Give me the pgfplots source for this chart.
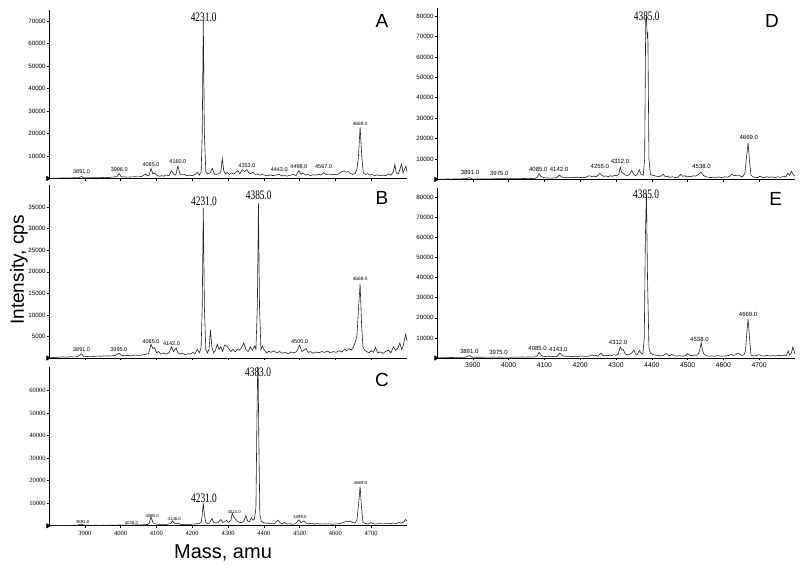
\documentclass[border=0pt]{standalone}
\usepackage{pgfplots}
\pgfplotsset{compat=1.18}
\usepackage{fontspec}
\setmainfont{Liberation Sans}
\newfontfamily\tms{Liberation Serif}
\newcommand\bl[1]{\scalebox{0.72}[1]{\tms\fontsize{13}{13}\selectfont #1}}
\newcommand\sm[1]{{\fontsize{5.5}{5.5}\selectfont #1}}
\newcommand\smm[1]{{\fontsize{6}{6}\selectfont #1}}
\pgfplotsset{
 ms/.style={scale only axis, width=358pt, anchor=south west, axis lines=left,
  axis line style={-, line width=0.8pt}, xmin=3800, xmax=4800, ymin=0, clip=false,
  xtick={3900,4000,...,4700}, tick align=outside, major tick length=2.2pt,
  tick style={line width=0.6pt, black}, scaled y ticks=false, scaled x ticks=false,
  /pgf/number format/assume math mode=true, /pgf/number format/1000 sep={},
  tick label style={font=\fontsize{6.2}{6.5}\selectfont}, yticklabel style={inner sep=1pt},
  xticklabel style={inner sep=2.5pt}},
 nox/.style={xticklabels={}},
 sp/.style={black!85, line width=0.6pt, mark=none},
 tri/.style={only marks, mark=triangle*, mark size=2.6pt, mark options={rotate=-90, fill=black}},
}
\begin{document}
\begin{tikzpicture}
\path[use as bounding box] (0pt,0pt) rectangle (800pt,-571pt);
% ---------------- A
\begin{axis}[ms, nox, at={(49pt,-178.5pt)}, height=168.5pt, ymax=74900, ytick={10000,20000,...,70000}]
\addplot[sp] coordinates {(3800,0)(3810,100)(3820,150)(3830,200)(3840,300)(3850,200)(3860,250)(3870,350)(3880,300)(3885,400)(3891,900)(3897,300)(3905,350)(3915,300)(3925,400)(3935,350)(3945,400)(3955,500)(3965,450)(3975,600)(3985,700)(3990,900)(3996,2200)(4002,800)(4010,700)(4020,600)(4030,700)(4040,800)(4050,700)(4060,1000)(4070,2000)(4075,1200)(4080,1500)(4085,4500)(4090,2000)(4095,2500)(4100,1500)(4105,1200)(4110,1000)(4115,1300)(4120,1000)(4128,1600)(4135,1200)(4142,3500)(4148,2000)(4154,1500)(4160,5500)(4166,2000)(4172,1600)(4178,1800)(4185,1200)(4192,1500)(4200,1300)(4208,1800)(4214,2800)(4220,1500)(4225,3000)(4228,20000)(4231,70500)(4234,20000)(4238,3000)(4243,2000)(4250,2500)(4256,4500)(4262,2000)(4268,1800)(4274,2200)(4280,3000)(4284,9000)(4288,3500)(4293,2000)(4298,2800)(4304,1800)(4310,2500)(4316,2000)(4322,2800)(4328,3500)(4333,2000)(4340,4000)(4346,3000)(4353,4000)(4358,2500)(4364,2200)(4370,2800)(4376,1800)(4382,2000)(4388,1500)(4395,1800)(4402,1500)(4410,1200)(4418,1600)(4425,1300)(4432,1500)(4443,1800)(4450,1200)(4458,1300)(4466,1100)(4475,1500)(4483,1800)(4490,1300)(4498,3500)(4504,1800)(4510,2500)(4516,1500)(4522,1800)(4530,1300)(4538,1700)(4546,1500)(4553,1900)(4560,1500)(4567,2600)(4574,1800)(4582,2000)(4590,1600)(4597,1900)(4604,1600)(4612,2400)(4618,3000)(4624,3400)(4630,2800)(4636,3100)(4642,2200)(4648,1800)(4655,2200)(4660,4000)(4664,9000)(4669,22800)(4674,9000)(4678,2500)(4684,1800)(4690,2200)(4696,1500)(4702,1800)(4710,1300)(4718,1600)(4725,1200)(4732,1500)(4740,1300)(4748,2000)(4755,1500)(4762,3000)(4766,6200)(4770,2500)(4776,2000)(4781,4500)(4785,6500)(4789,2500)(4793,4000)(4797,5500)(4800,3000)};
\addplot[tri] coordinates {(3797,0)};
\node at (axis cs:4232,71600) {\bl{4231.0}};
\node at (axis cs:3891,2900) {\sm{3891.0}};
\node at (axis cs:3996,3800) {\sm{3996.0}};
\node at (axis cs:4085,6300) {\sm{4085.0}};
\node at (axis cs:4160,7500) {\sm{4160.0}};
\node at (axis cs:4353,5900) {\sm{4353.0}};
\node at (axis cs:4443,3800) {\sm{4443.0}};
\node at (axis cs:4498,5200) {\sm{4498.0}};
\node at (axis cs:4567,5200) {\sm{4567.0}};
\node at (axis cs:4669,24500) {\fontsize{4.8}{5}\selectfont 4669.0};
\end{axis}
% ---------------- B
\begin{axis}[ms, nox, at={(49pt,-358pt)}, height=173pt, ymax=40140, ytick={5000,10000,...,35000}]
\addplot[sp] coordinates {(3800,0)(3810,100)(3820,150)(3830,200)(3840,250)(3850,200)(3860,300)(3870,250)(3880,300)(3891,1000)(3897,300)(3905,350)(3915,400)(3925,350)(3935,450)(3945,400)(3955,500)(3965,450)(3975,500)(3985,600)(3995,1100)(4002,600)(4010,550)(4020,600)(4030,500)(4040,700)(4050,600)(4060,700)(4070,900)(4078,1000)(4085,3200)(4090,2200)(4095,2400)(4100,1200)(4106,1500)(4112,900)(4120,1100)(4128,900)(4135,1200)(4142,2600)(4148,1500)(4155,2300)(4160,1200)(4166,900)(4172,1100)(4180,800)(4188,1000)(4195,900)(4202,1300)(4208,1000)(4214,2000)(4220,1200)(4225,2500)(4228,12000)(4231,34800)(4234,12000)(4238,2000)(4243,1200)(4247,2000)(4251,6500)(4255,2500)(4260,1200)(4265,1800)(4270,3200)(4275,2000)(4280,2600)(4285,1500)(4290,3000)(4296,2800)(4302,2200)(4308,1500)(4314,2000)(4320,1400)(4326,2000)(4332,1800)(4338,2400)(4344,3500)(4350,2000)(4356,1500)(4362,2600)(4368,1800)(4374,2800)(4378,2000)(4382,12000)(4385,36000)(4388,12000)(4392,2000)(4396,2800)(4402,1800)(4408,1200)(4414,1600)(4420,1300)(4428,1700)(4436,1200)(4444,1500)(4452,1100)(4460,1300)(4468,1000)(4476,1400)(4484,1200)(4492,1500)(4500,3000)(4506,1500)(4512,1800)(4518,2200)(4524,1300)(4530,1500)(4538,1100)(4546,1400)(4554,1200)(4562,1500)(4570,1300)(4578,1600)(4586,1200)(4594,1500)(4602,1300)(4610,1700)(4618,1400)(4626,2000)(4632,1700)(4638,2200)(4644,1900)(4650,2500)(4655,3600)(4660,5000)(4665,12000)(4669,17200)(4673,8000)(4677,2500)(4682,1800)(4688,1500)(4694,1200)(4700,1700)(4706,1300)(4712,2500)(4718,1200)(4725,1400)(4732,1100)(4740,1500)(4748,1800)(4755,1200)(4762,2600)(4768,1800)(4774,2200)(4780,3500)(4785,2000)(4790,3000)(4796,5500)(4800,4000)};
\addplot[tri] coordinates {(3797,0)};
\node at (axis cs:4233,36400) {\bl{4231.0}};
\node at (axis cs:4386,37800) {\bl{4385.0}};
\node at (axis cs:3891,1900) {\sm{3891.0}};
\node at (axis cs:3995,1900) {\sm{3995.0}};
\node at (axis cs:4085,3900) {\sm{4085.0}};
\node at (axis cs:4142,3300) {\sm{4142.0}};
\node at (axis cs:4500,3800) {\sm{4500.0}};
\node at (axis cs:4669,18300) {\fontsize{4.8}{5}\selectfont 4669.0};
\end{axis}
% ---------------- C
\begin{axis}[ms, at={(49pt,-525.8pt)}, height=158.8pt, ymax=70500, ytick={10000,20000,...,60000},
  tick label style={font=\tms\fontsize{6.5}{7}\selectfont}]
\addplot[sp] coordinates {(3800,0)(3810,100)(3820,150)(3830,150)(3840,200)(3850,150)(3860,200)(3870,250)(3880,300)(3891,800)(3898,300)(3910,250)(3920,200)(3930,250)(3940,200)(3950,250)(3960,200)(3970,250)(3980,300)(3990,250)(3996,400)(4005,300)(4015,350)(4025,300)(4035,350)(4045,400)(4055,350)(4065,500)(4075,600)(4080,1200)(4085,4000)(4090,1500)(4095,900)(4102,700)(4110,600)(4118,700)(4126,600)(4134,800)(4140,1000)(4145,2200)(4150,1200)(4156,900)(4160,1200)(4166,700)(4174,600)(4182,700)(4190,600)(4198,700)(4206,800)(4214,900)(4220,1000)(4225,1500)(4228,5000)(4231,10000)(4234,5000)(4238,1500)(4243,1000)(4248,1200)(4255,3200)(4260,1500)(4266,1200)(4272,1500)(4280,2800)(4285,1500)(4290,1800)(4296,2400)(4302,1500)(4308,2500)(4312,5600)(4316,4000)(4320,3200)(4326,2000)(4332,1500)(4338,1400)(4344,2000)(4350,4500)(4355,2000)(4360,1800)(4365,3500)(4370,2500)(4374,3000)(4378,8000)(4381,50000)(4383,70400)(4384,70400)(4386,40000)(4389,5000)(4393,2000)(4398,1500)(4404,1200)(4410,1300)(4416,900)(4422,1000)(4430,900)(4440,2500)(4446,1200)(4452,900)(4458,1500)(4464,800)(4472,900)(4480,700)(4488,900)(4498,2600)(4504,1400)(4512,2100)(4518,1200)(4525,900)(4532,1200)(4540,800)(4548,1000)(4556,800)(4564,900)(4572,800)(4580,900)(4590,700)(4600,800)(4610,900)(4618,1200)(4624,1500)(4630,2000)(4636,1800)(4642,2100)(4648,1500)(4654,1200)(4660,2500)(4665,10000)(4669,17400)(4673,8000)(4677,1500)(4684,1000)(4692,800)(4700,1500)(4706,900)(4714,800)(4722,1000)(4730,800)(4738,900)(4746,1200)(4754,900)(4762,1300)(4770,1000)(4778,1500)(4785,1200)(4790,1600)(4796,2800)(4800,2000)};
\addplot[tri] coordinates {(3797,0)};
\node at (axis cs:4384,68300) {\bl{4383.0}};
\node at (axis cs:4233,12200) {\bl{4231.0}};
\node at (axis cs:3894,1800) {\fontsize{4.3}{4.5}\selectfont 3891.0};
\node at (axis cs:4030,1400) {\fontsize{4.3}{4.5}\selectfont 4026.0};
\node at (axis cs:4088,4300) {\fontsize{4.3}{4.5}\selectfont 4085.0};
\node at (axis cs:4150,3000) {\fontsize{4.3}{4.5}\selectfont 4146.0};
\node at (axis cs:4317,6300) {\fontsize{4.3}{4.5}\selectfont 4314.0};
\node at (axis cs:4501,4000) {\fontsize{4.3}{4.5}\selectfont 4499.0};
\node at (axis cs:4670,18900) {\fontsize{4.3}{4.5}\selectfont 4669.0};
\end{axis}
% ---------------- D
\begin{axis}[ms, nox, at={(437pt,-179.4pt)}, height=171.4pt, ymax=84000, ytick={10000,20000,...,80000}]
\addplot[sp] coordinates {(3800,0)(3810,100)(3820,150)(3830,200)(3840,150)(3850,250)(3860,200)(3870,300)(3880,400)(3891,800)(3898,300)(3905,200)(3915,250)(3925,200)(3935,300)(3945,250)(3955,300)(3965,350)(3975,400)(3985,350)(3995,400)(4005,350)(4015,400)(4025,350)(4035,400)(4045,450)(4055,500)(4065,450)(4075,600)(4080,1000)(4085,2800)(4090,1500)(4096,1000)(4102,800)(4110,700)(4118,600)(4126,700)(4134,800)(4142,2200)(4148,1200)(4154,1000)(4160,900)(4168,800)(4176,1000)(4184,900)(4192,1100)(4200,900)(4208,1000)(4214,800)(4220,1500)(4226,1800)(4232,1400)(4238,1600)(4244,1300)(4250,2000)(4255,3000)(4260,2000)(4266,1500)(4272,1700)(4278,1300)(4284,1800)(4290,1500)(4296,2000)(4302,1800)(4308,2500)(4312,6000)(4316,3500)(4320,3000)(4326,2200)(4332,1800)(4338,2500)(4344,4500)(4348,3000)(4354,1800)(4360,2500)(4365,4800)(4370,2500)(4376,2000)(4380,10000)(4383,78000)(4385,80000)(4387,70000)(4389,72000)(4392,10000)(4396,2500)(4402,2000)(4408,1800)(4414,1500)(4420,1300)(4426,1700)(4432,2500)(4438,1200)(4444,1600)(4450,1000)(4458,1300)(4466,900)(4474,1200)(4480,2500)(4486,1500)(4492,1800)(4498,1200)(4504,1500)(4510,1300)(4516,1800)(4522,1600)(4530,2400)(4538,3500)(4544,2000)(4550,1400)(4556,1100)(4564,900)(4572,1100)(4580,1000)(4588,1200)(4596,900)(4604,1300)(4612,1100)(4618,1600)(4624,2600)(4630,1800)(4636,2000)(4642,2100)(4648,1500)(4654,1400)(4660,3000)(4664,10000)(4669,18000)(4673,9000)(4677,2000)(4684,1200)(4690,1000)(4696,900)(4702,1600)(4708,1100)(4714,900)(4720,1300)(4728,1000)(4736,1200)(4744,900)(4752,1300)(4760,1000)(4768,1600)(4774,1200)(4780,3000)(4785,2000)(4790,4000)(4795,2500)(4800,1500)};
\addplot[tri] coordinates {(3797,0)};
\node at (axis cs:4386,80100) {\bl{4385.0}};
\node at (axis cs:3892,3300) {\smm{3891.0}};
\node at (axis cs:3974,3100) {\smm{3975.0}};
\node at (axis cs:4083,5000) {\smm{4085.0}};
\node at (axis cs:4141,5000) {\smm{4142.0}};
\node at (axis cs:4255,6200) {\smm{4255.0}};
\node at (axis cs:4311,8700) {\smm{4312.0}};
\node at (axis cs:4539,6600) {\smm{4538.0}};
\node at (axis cs:4671,20600) {\smm{4669.0}};
\end{axis}
% ---------------- E
\begin{axis}[ms, at={(437pt,-358pt)}, height=170pt, ymax=84600, ytick={10000,20000,...,80000},
  xticklabel style={font=\fontsize{6.8}{7}\selectfont}]
\addplot[sp] coordinates {(3800,0)(3810,100)(3820,150)(3830,200)(3840,250)(3850,300)(3860,350)(3870,300)(3880,400)(3891,1200)(3898,400)(3905,300)(3915,400)(3925,350)(3935,450)(3945,400)(3955,500)(3965,450)(3975,500)(3985,400)(3995,450)(4005,400)(4015,450)(4025,400)(4035,500)(4045,450)(4055,500)(4065,450)(4075,600)(4080,1200)(4085,2800)(4090,1500)(4096,900)(4104,700)(4112,600)(4120,700)(4128,800)(4136,900)(4143,2500)(4148,1500)(4154,1000)(4162,800)(4170,900)(4178,700)(4186,900)(4194,800)(4202,1000)(4210,900)(4218,800)(4226,1000)(4232,1600)(4238,1100)(4244,1300)(4250,1000)(4258,2500)(4264,1200)(4270,1400)(4276,1100)(4282,1500)(4288,1200)(4294,1700)(4300,1300)(4306,2000)(4312,5500)(4316,4000)(4320,4200)(4326,2000)(4332,1500)(4338,1800)(4344,2500)(4350,4000)(4355,2000)(4360,1800)(4365,3800)(4370,2500)(4375,2000)(4379,10000)(4382,60000)(4385,82000)(4388,40000)(4392,5000)(4396,2500)(4402,1800)(4408,1500)(4414,1300)(4420,1200)(4426,1000)(4432,1300)(4440,2200)(4446,1300)(4452,1200)(4456,1800)(4462,1100)(4470,1000)(4478,1200)(4486,900)(4494,1200)(4500,2200)(4506,1300)(4512,1100)(4518,1500)(4524,1300)(4530,2000)(4534,4000)(4538,7600)(4542,3500)(4546,1800)(4552,1200)(4560,900)(4568,1100)(4576,900)(4584,1200)(4592,1000)(4600,900)(4608,1100)(4616,1300)(4622,1800)(4628,1300)(4634,1600)(4640,2400)(4646,1800)(4652,1300)(4658,1600)(4662,4000)(4665,12000)(4669,19500)(4673,10000)(4677,1500)(4684,1000)(4692,1200)(4700,1700)(4706,1100)(4714,1000)(4722,1300)(4730,1000)(4738,1200)(4746,1000)(4754,1300)(4762,1100)(4770,1500)(4776,1200)(4781,3500)(4785,1500)(4790,2500)(4794,5500)(4798,3000)(4800,2000)};
\addplot[tri] coordinates {(3797,0)};
\node at (axis cs:4384,81600) {\bl{4385.0}};
\node at (axis cs:3890,3100) {\smm{3891.0}};
\node at (axis cs:3972,2600) {\smm{3975.0}};
\node at (axis cs:4081,4800) {\smm{4085.0}};
\node at (axis cs:4139,4300) {\smm{4143.0}};
\node at (axis cs:4306,7600) {\smm{4312.0}};
\node at (axis cs:4533,9300) {\smm{4538.0}};
\node at (axis cs:4669,21700) {\smm{4669.0}};
\end{axis}
% panel letters and axis titles
\node[font=\fontsize{19}{19}\selectfont] at (382pt,-20.7pt) {A};
\node[font=\fontsize{19}{19}\selectfont] at (382pt,-198pt) {B};
\node[font=\fontsize{19}{19}\selectfont] at (382pt,-380pt) {C};
\node[font=\fontsize{19}{19}\selectfont] at (772pt,-21pt) {D};
\node[font=\fontsize{19}{19}\selectfont] at (775.7pt,-199pt) {E};
\node[rotate=90, font=\fontsize{19}{19}\selectfont] at (19pt,-270pt) {Intensity, cps};
\node[font=\fontsize{20}{20}\selectfont] at (223pt,-553pt) {Mass, amu};
\end{tikzpicture}
\end{document}
